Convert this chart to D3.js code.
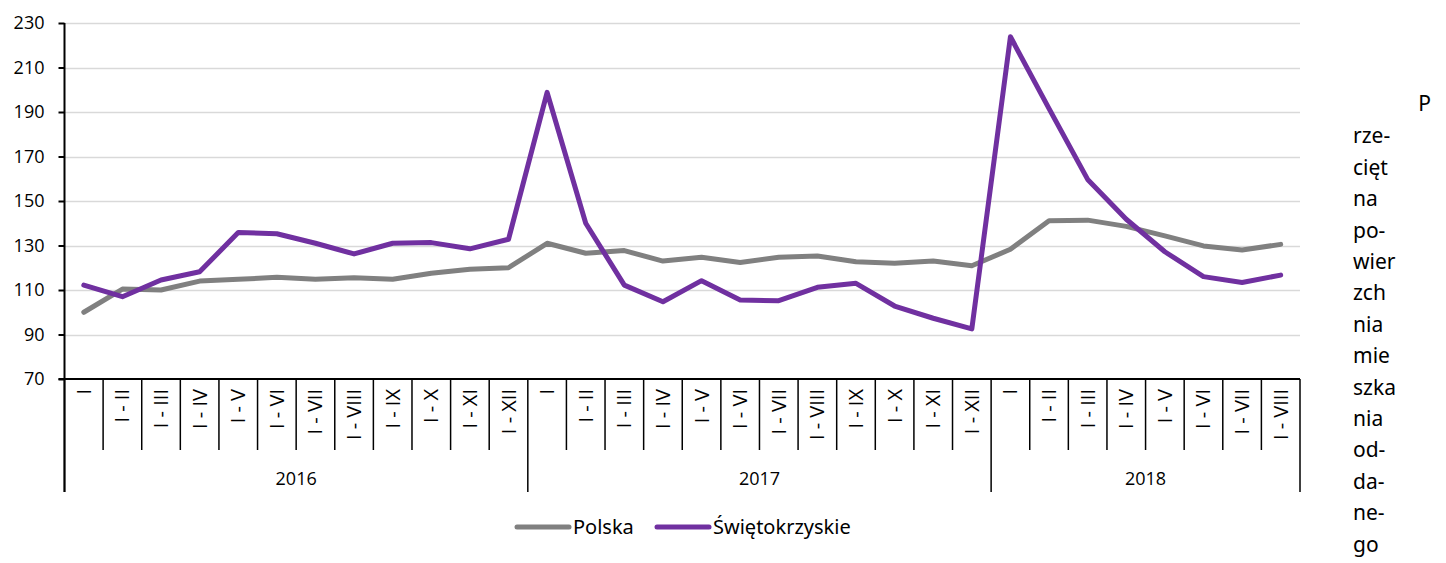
<!DOCTYPE html>
<html>
<head>
<meta charset="utf-8">
<script src="https://cdn.jsdelivr.net/npm/d3@7"></script>
<style>
  body { margin: 0; background: #fff; }
  svg { display: block; font-family: "Noto Sans", "Open Sans", sans-serif; }
</style>
</head>
<body>
<div id="fig"></div>
<script>
// categories (months cumulated) and years
var years = ["2016", "2017", "2018"];
var months2016 = ["I", "I - II", "I - III", "I - IV", "I - V", "I - VI", "I - VII", "I - VIII", "I - IX", "I - X", "I - XI", "I - XII"];
var months2017 = ["I", "I - II", "I - III", "I - IV", "I - V", "I - VI", "I - VII", "I - VIII", "I - IX", "I - X", "I - XI", "I - XII"];
var months2018 = ["I", "I - II", "I - III", "I - IV", "I - V", "I - VI", "I - VII", "I - VIII"];

// series values
var polska = [100, 110.4, 110, 114, 114.8, 115.7, 114.8, 115.5, 114.8, 117.5, 119.3, 120,
              131, 126.5, 127.7, 123, 124.7, 122.4, 124.7, 125.3, 122.7, 122, 123, 120.9,
              128.3, 141.1, 141.4, 138.6, 134.3, 129.8, 128, 130.5];
var swietokrzyskie = [112.2, 107, 114.5, 118.2, 135.8, 135.3, 131, 126.2, 131, 131.3, 128.5, 132.8,
                      198.8, 140, 112.2, 104.7, 114.2, 105.5, 105.2, 111.2, 113, 102.8, 97.3, 92.5,
                      223.8, 191.5, 159.7, 141.8, 127.2, 116, 113.4, 116.7];

var yTicks = [70, 90, 110, 130, 150, 170, 190, 210, 230];

// side text as it was wrapped in the source
var sideText = ["rze-", "cięt", "na", "po-", "wier", "zch", "nia", "mie", "szka", "nia", "od-", "da-", "ne-", "go"];

var width = 1446, height = 563;
var margin = {left: 64.5, right: 1300, top: 23, bottom: 379};

var svg = d3.select("#fig").append("svg")
    .attr("width", width)
    .attr("height", height);

// flat list of categories
var cats = [];
[months2016, months2017, months2018].forEach(function(m, yi) {
  m.forEach(function(label) { cats.push({year: years[yi], label: label}); });
});
var idx = d3.range(cats.length);

var x = d3.scaleBand()
    .domain(idx)
    .range([margin.left, margin.right]);

var y = d3.scaleLinear()
    .domain([70, 230])
    .range([margin.bottom, margin.top]);

// gridlines
svg.append("g")
  .selectAll("line")
  .data(yTicks.slice(1))
  .enter().append("line")
    .attr("x1", margin.left).attr("x2", margin.right)
    .attr("y1", function(d) { return Math.round(y(d)) + 0.5; })
    .attr("y2", function(d) { return Math.round(y(d)) + 0.5; })
    .attr("stroke", "#d9d9d9")
    .attr("stroke-width", 1.5);

// y axis
var yAxis = svg.append("g")
    .attr("transform", "translate(" + margin.left + ",0)")
    .call(d3.axisLeft(y).tickValues(yTicks).tickSize(6).tickPadding(14));
yAxis.select(".domain").attr("stroke", "#000").attr("stroke-width", 2)
    .attr("d", "M0," + margin.top + "V492");
yAxis.selectAll(".tick line").attr("stroke", "#000").attr("stroke-width", 2);
yAxis.selectAll(".tick text")
    .style("font-family", "'Open Sans', sans-serif")
    .style("font-size", "18px")
    .attr("fill", "#000");

// x axis base line
svg.append("line")
    .attr("x1", margin.left - 6).attr("x2", margin.right)
    .attr("y1", margin.bottom).attr("y2", margin.bottom)
    .attr("stroke", "#000").attr("stroke-width", 2);

// category separators
var sepData = d3.range(cats.length + 1);
var yearStarts = [0, 12, 24, 32];
svg.append("g")
  .selectAll("line")
  .data(sepData)
  .enter().append("line")
    .attr("x1", function(i) { return margin.left + i * x.step(); })
    .attr("x2", function(i) { return margin.left + i * x.step(); })
    .attr("y1", margin.bottom)
    .attr("y2", function(i) { return yearStarts.indexOf(i) >= 0 ? 492 : 450; })
    .attr("stroke", "#000")
    .attr("stroke-width", 1.5);

// category labels (rotated)
svg.append("g")
  .selectAll("text")
  .data(idx)
  .enter().append("text")
    .attr("transform", function(i) {
      return "translate(" + (x(i) + x.bandwidth() / 2) + ",389) rotate(-90)";
    })
    .attr("text-anchor", "end")
    .attr("dy", "0.35em")
    .style("font-family", "'Open Sans', sans-serif")
    .style("font-size", "20px")
    .text(function(i) { return cats[i].label; });

// year labels
svg.append("g")
  .selectAll("text")
  .data(years)
  .enter().append("text")
    .attr("x", function(d, i) {
      return margin.left + (yearStarts[i] + yearStarts[i + 1]) / 2 * x.step();
    })
    .attr("y", 485)
    .attr("text-anchor", "middle")
    .style("font-family", "'Open Sans', sans-serif")
    .style("font-size", "18px")
    .text(function(d) { return d; });

// lines
var line = function(values) {
  return d3.line()
    .x(function(d, i) { return x(i) + x.bandwidth() / 2; })
    .y(function(d) { return y(d); })(values);
};

svg.append("path")
    .attr("d", line(polska))
    .attr("fill", "none")
    .attr("stroke", "#808080")
    .attr("stroke-width", 5)
    .attr("stroke-linejoin", "round")
    .attr("stroke-linecap", "round");

svg.append("path")
    .attr("d", line(swietokrzyskie))
    .attr("fill", "none")
    .attr("stroke", "#7030a0")
    .attr("stroke-width", 5)
    .attr("stroke-linejoin", "round")
    .attr("stroke-linecap", "round");

// legend
var legend = [{name: "Polska", color: "#808080", x: 517}, {name: "Świętokrzyskie", color: "#7030a0", x: 657}];
legend.forEach(function(l) {
  svg.append("line")
    .attr("x1", l.x).attr("x2", l.x + 52)
    .attr("y1", 527).attr("y2", 527)
    .attr("stroke", l.color).attr("stroke-width", 5)
    .attr("stroke-linecap", "round");
  svg.append("text")
    .attr("x", l.x + 56).attr("y", 527)
    .attr("dy", "0.35em")
    .style("font-size", "20px")
    .text(l.name);
});

// side text
svg.append("text")
    .attr("x", 1431).attr("y", 104)
    .attr("dy", "0.35em")
    .attr("text-anchor", "end")
    .style("font-size", "21px")
    .text("P");
svg.append("g")
  .selectAll("text")
  .data(sideText)
  .enter().append("text")
    .attr("x", 1353)
    .attr("y", function(d, i) { return 136 + i * 31.4; })
    .attr("dy", "0.35em")
    .style("font-size", "21px")
    .text(function(d) { return d; });
</script>
</body>
</html>
